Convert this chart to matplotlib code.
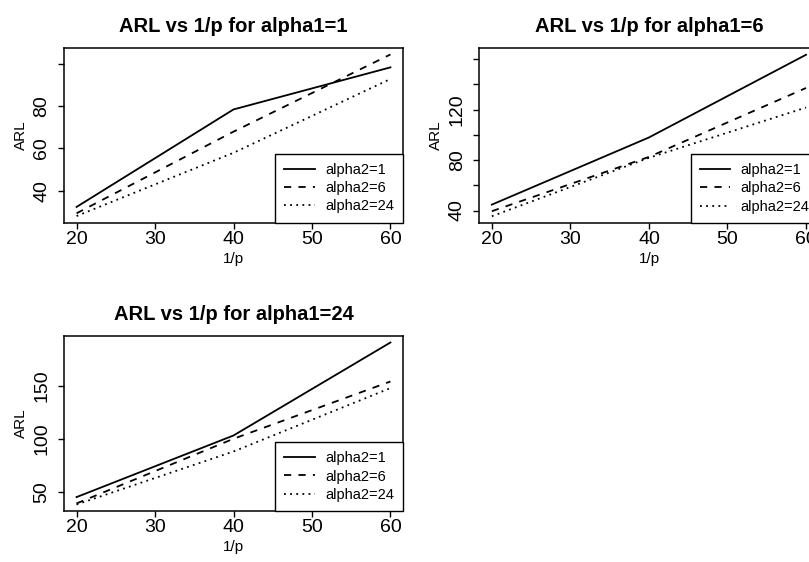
import numpy as np
import matplotlib
matplotlib.use("Agg")
from matplotlib import pyplot as plt

plt.rcParams["font.family"] = ["Liberation Sans", "DejaVu Sans"]

# x values (1/p)
inv_p = [20, 40, 60]
series_labels = ["alpha2=1", "alpha2=6", "alpha2=24"]

# ARL values, one list per alpha2, per panel
arl_a1_1 = [[32.3, 78.4, 98.3], [29.3, 67.9, 104.4], [28.0, 57.9, 92.8]]
arl_a1_6 = [[44.7, 97.9, 163.4], [39.5, 82.5, 137.1], [35.5, 81.8, 121.6]]
arl_a1_24 = [[45.0, 103.1, 190.8], [39.0, 100.0, 154.0], [38.0, 88.0, 147.8]]

titles = ["ARL vs 1/p for alpha1=1", "ARL vs 1/p for alpha1=6", "ARL vs 1/p for alpha1=24"]
yticks = [[40, 60, 80, 100], [40, 60, 80, 100, 120, 140, 160], [50, 100, 150]]
ytick_labels = [["40", "60", "80", ""], ["40", "", "80", "", "120", "", ""], ["50", "100", "150"]]
xticks = [20, 30, 40, 50, 60]

W, H = 809, 562
fig = plt.figure(figsize=(W / 100, H / 100), dpi=100)

# axes boxes in pixels: left, top, right, bottom
boxes = [(64, 48, 403, 222.5), (479.3, 48.3, 818.6, 222.7), (64, 336, 403, 511)]
styles = ["-", (0, (4, 4)), (0, (1, 2.4))]

for k, data in enumerate([arl_a1_1, arl_a1_6, arl_a1_24]):
    l, t, r, b = boxes[k]
    ax = fig.add_axes([l / W, (H - b) / H, (r - l) / W, (b - t) / H])
    for vals, ls, lab in zip(data, styles, series_labels):
        ax.plot(inv_p, vals, color="black", linestyle=ls, linewidth=1.3, label=lab)
    # R style 4% padding
    allv = np.array(data)
    lo, hi = allv.min(), allv.max()
    ax.set_ylim(lo - 0.04 * (hi - lo), hi + 0.04 * (hi - lo))
    ax.set_xlim(20 - 1.6, 60 + 1.6)
    ax.set_xticks(xticks)
    ax.set_xticklabels([str(v) for v in xticks], fontsize=14)
    ax.set_yticks(yticks[k])
    ax.set_yticklabels(ytick_labels[k], fontsize=14, rotation=90, va="center")
    ax.tick_params(direction="out", length=4.3, width=1.0, pad=1.5, colors="black")
    ax.tick_params(axis="y", pad=5.5)
    for sp in ax.spines.values():
        sp.set_linewidth(1.1)
    ax.set_xlabel("1/p", fontsize=11, labelpad=3)
    ax.set_ylabel("ARL", fontsize=11, labelpad=4)
    ax.set_title(titles[k], fontsize=14.5, fontweight="bold", pad=11.5)
    leg = ax.legend(loc="lower right", fontsize=10.5, frameon=True, fancybox=False,
                    borderaxespad=0, handlelength=2.1, handletextpad=0.7,
                    labelspacing=0.3, borderpad=0.62, edgecolor="black")
    leg.get_frame().set_linewidth(1.0)
    leg.get_frame().set_alpha(1)

fig.savefig("out.png", dpi=100)
